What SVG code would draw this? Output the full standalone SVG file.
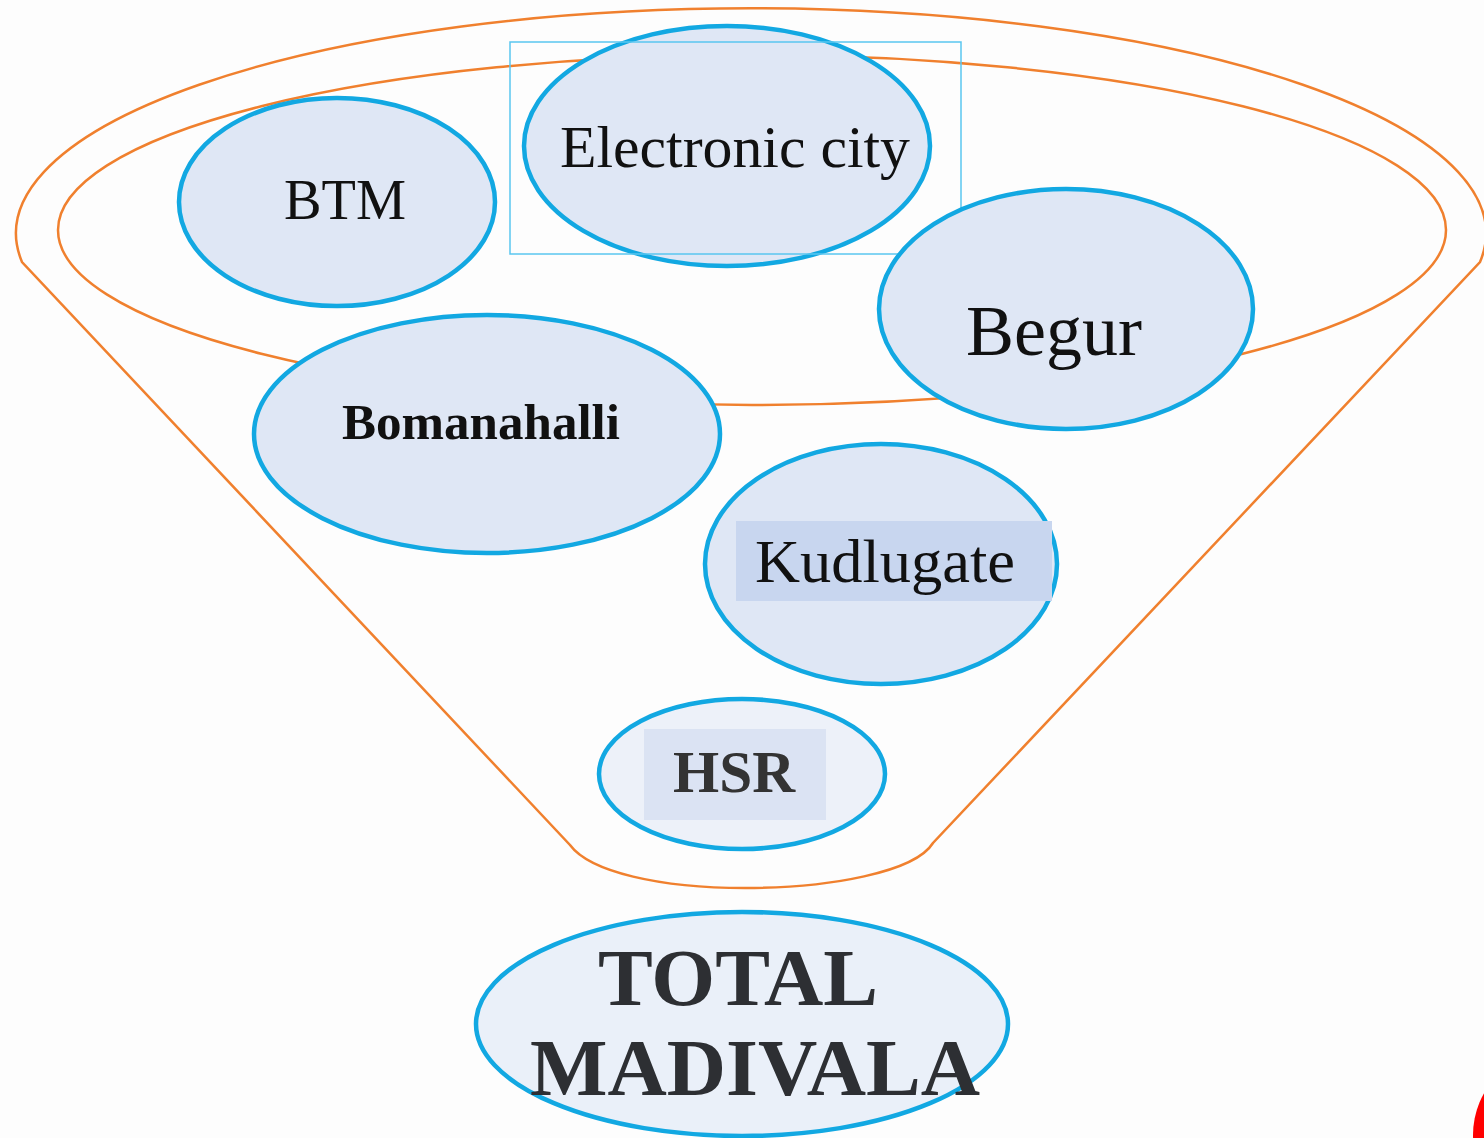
<svg xmlns="http://www.w3.org/2000/svg" width="1484" height="1138" viewBox="0 0 1484 1138">
<style>
.funnel{fill:none;stroke:#f0802e;stroke-width:2.5}
.node{fill:#dfe7f5;stroke:#12a8e2;stroke-width:4.5}
.lbl{font-family:"Liberation Serif","DejaVu Serif",serif;fill:#111;text-anchor:middle}
.b{font-weight:bold}
</style>
<rect width="1484" height="1138" fill="#fdfdfd"/>
<g id="funnel">
<path class="funnel" d="M22,262 A735,225 0 1 1 1480,262 L933,843 C915,872 830,888 745,888 C660,888 590,872 570,845 Z"/>
<ellipse class="funnel" cx="752" cy="230" rx="694" ry="175"/>
</g>
<g id="connectors"></g>
<g id="btm">
<ellipse class="node" cx="337" cy="202" rx="158" ry="104"/>
<text class="lbl" x="345" y="219" font-size="57" textLength="122" lengthAdjust="spacingAndGlyphs">BTM</text>
</g>
<g id="electronic-city">
<ellipse class="node" cx="727" cy="146" rx="203" ry="120"/>
<rect x="510" y="42" width="451" height="212" fill="none" stroke="#5ac6ef" stroke-width="1.5"/>
<text class="lbl" x="735" y="167" font-size="60" textLength="350" lengthAdjust="spacingAndGlyphs">Electronic city</text>
</g>
<g id="begur">
<ellipse class="node" cx="1066" cy="309" rx="187" ry="120"/>
<text class="lbl" x="1054" y="355" font-size="72" textLength="176" lengthAdjust="spacingAndGlyphs">Begur</text>
</g>
<g id="bomanahalli">
<ellipse class="node" cx="487" cy="434" rx="233" ry="119"/>
<text class="lbl b" x="481" y="439" font-size="51" textLength="278" lengthAdjust="spacingAndGlyphs">Bomanahalli</text>
</g>
<g id="kudlugate">
<ellipse class="node" cx="881" cy="564" rx="176" ry="120"/>
<rect x="736" y="521" width="316" height="80" fill="#c8d6ef"/>
<text class="lbl" x="885" y="582" font-size="62" textLength="260" lengthAdjust="spacingAndGlyphs">Kudlugate</text>
</g>
<g id="hsr">
<ellipse class="node" cx="742" cy="774" rx="143" ry="75" style="fill:#edf1f9"/>
<rect x="644" y="729" width="182" height="91" fill="#dbe3f3"/>
<text class="lbl b" x="734" y="792" font-size="59" textLength="122" lengthAdjust="spacingAndGlyphs" style="fill:#333">HSR</text>
</g>
<g id="total-madivala">
<ellipse class="node" cx="742" cy="1024" rx="266" ry="112" style="fill:#eaf0f9"/>
<text class="lbl b" x="738" y="1005" font-size="80" textLength="280" lengthAdjust="spacingAndGlyphs" style="fill:#2d2f33">TOTAL</text>
<text class="lbl b" x="755" y="1095" font-size="80" textLength="450" lengthAdjust="spacingAndGlyphs" style="fill:#2d2f33">MADIVALA</text>
</g>
<circle cx="1558" cy="1135" r="85" fill="#ff0000"/>
</svg>
